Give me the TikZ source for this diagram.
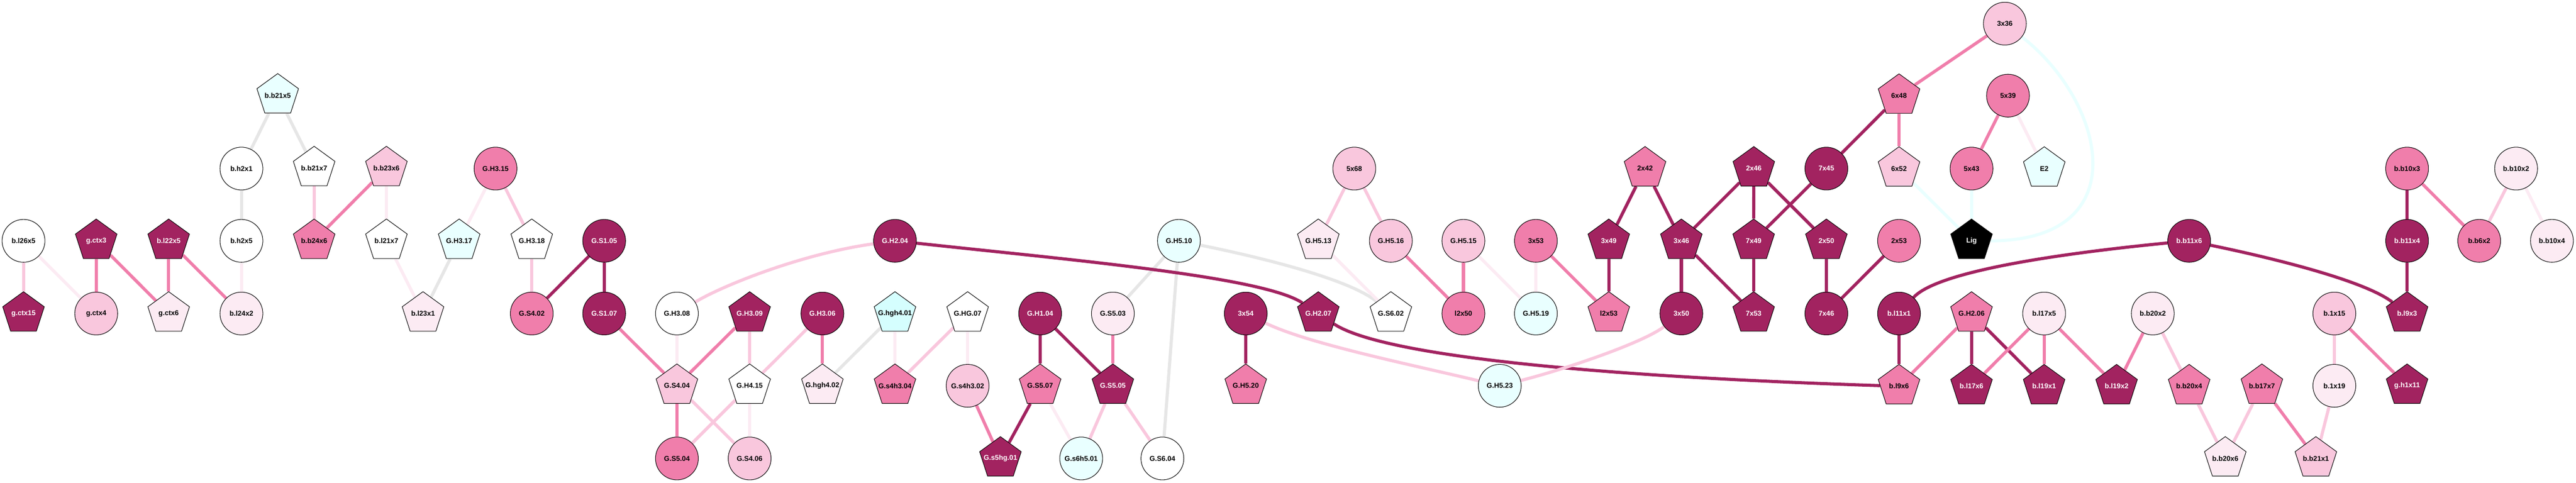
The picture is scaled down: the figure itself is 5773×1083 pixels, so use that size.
\documentclass[tikz,border=0pt]{standalone}
\usepackage{fontspec}
\setmainfont{Liberation Sans}
\usetikzlibrary{shapes.geometric,backgrounds}
\definecolor{cD}{RGB}{162,35,96}
\definecolor{cM}{RGB}{240,126,171}
\definecolor{cL}{RGB}{249,199,221}
\definecolor{cV}{RGB}{252,235,243}
\definecolor{cG}{RGB}{230,230,230}
\definecolor{cC}{RGB}{233,255,255}
\definecolor{cCC}{RGB}{213,254,254}
\newcommand\nlab[1]{\makebox[0pt]{#1}}
\begin{document}
\begin{tikzpicture}[x=1pt,y=-1pt,
  basenode/.style={draw=black,line width=1.2pt,inner sep=0pt,font=\fontsize{15.7}{18}\selectfont\bfseries},
  circ/.style={basenode,circle,minimum size=96pt},
  pent/.style={basenode,regular polygon,regular polygon sides=5,minimum size=98pt},
  fD/.style={fill=cD,text=white},
  fM/.style={fill=cM,text=black},
  fL/.style={fill=cL,text=black},
  fV/.style={fill=cV,text=black},
  fW/.style={fill=white,text=black},
  fC/.style={fill=cC,text=black},
  fCC/.style={fill=cCC,text=black},
  fK/.style={fill=black,text=white},
  edge/.style={line width=7pt},
  eD/.style={edge,draw=cD},
  eM/.style={edge,draw=cM},
  eL/.style={edge,draw=cL},
  eV/.style={edge,draw=cV},
  eG/.style={edge,draw=cG},
  eC/.style={edge,draw=cC}]
\useasboundingbox (0,0) rectangle (5773,1083);
% ---------- nodes ----------
\node[circ,fW] (bl26x5) at (52.7,540) {\nlab{b.l26x5}};
\node[pent,fD] (gctx3) at (215.6,540) {\nlab{g.ctx3}};
\node[pent,fD] (bl22x5) at (378,540) {\nlab{b.l22x5}};
\node[circ,fW] (bh2x5) at (541,540) {\nlab{b.h2x5}};
\node[circ,fW] (bh2x1) at (541,378) {\nlab{b.h2x1}};
\node[pent,fC] (bb21x5) at (622.4,214) {\nlab{b.b21x5}};
\node[pent,fW] (bb21x7) at (704,377) {\nlab{b.b21x7}};
\node[pent,fL] (bb23x6) at (866,377) {\nlab{b.b23x6}};
\node[pent,fM] (bb24x6) at (704,540) {\nlab{b.b24x6}};
\node[pent,fW] (bl21x7) at (866,540) {\nlab{b.l21x7}};
\node[pent,fC] (gh317) at (1029,540) {\nlab{G.H3.17}};
\node[circ,fV] (bl24x2) at (541,703) {\nlab{b.l24x2}};
\node[pent,fV] (bl23x1) at (948,703) {\nlab{b.l23x1}};
\node[pent,fD] (gctx15) at (52.7,703) {\nlab{g.ctx15}};
\node[circ,fL] (gctx4) at (215.6,703) {\nlab{g.ctx4}};
\node[pent,fV] (gctx6) at (378,703) {\nlab{g.ctx6}};
\node[circ,fM] (gh315) at (1110.5,378) {\nlab{G.H3.15}};
\node[pent,fW] (gh318) at (1191.7,540) {\nlab{G.H3.18}};
\node[circ,fD] (gs105) at (1354,540) {\nlab{G.S1.05}};
\node[circ,fM] (gs402) at (1191.7,703) {\nlab{G.S4.02}};
\node[circ,fD] (gs107) at (1354,703) {\nlab{G.S1.07}};
\node[circ,fW] (gh308) at (1517,703) {\nlab{G.H3.08}};
\node[pent,fL] (gs404) at (1517,865) {\nlab{G.S4.04}};
\node[circ,fM] (gs504) at (1517,1028) {\nlab{G.S5.04}};
\node[circ,fD] (gh204) at (2005.7,540) {\nlab{G.H2.04}};
\node[pent,fD] (gh309) at (1680,703) {\nlab{G.H3.09}};
\node[circ,fD] (gh306) at (1843,703) {\nlab{G.H3.06}};
\node[pent,fCC] (ghgh401) at (2005.7,703) {\nlab{G.hgh4.01}};
\node[pent,fW] (ghg07) at (2168.5,703) {\nlab{G.HG.07}};
\node[pent,fW] (gh415) at (1680,865) {\nlab{G.H4.15}};
\node[pent,fV] (ghgh402) at (1843,865) {\nlab{G.hgh4.02}};
\node[pent,fM] (gs4h304) at (2005.7,865) {\nlab{G.s4h3.04}};
\node[circ,fL] (gs4h302) at (2168.5,865) {\nlab{G.s4h3.02}};
\node[circ,fL] (gs406) at (1680,1028) {\nlab{G.S4.06}};
\node[pent,fD] (gs5hg01) at (2242,1028) {\nlab{G.s5hg.01}};
\node[circ,fC] (gh510) at (2642,540) {\nlab{G.H5.10}};
\node[circ,fD] (gh104) at (2331,703) {\nlab{G.H1.04}};
\node[circ,fV] (gs503) at (2494,703) {\nlab{G.S5.03}};
\node[circ,fD] (x3x54) at (2791.8,703) {\nlab{3x54}};
\node[pent,fM] (gs507) at (2331,865) {\nlab{G.S5.07}};
\node[pent,fD] (gs505) at (2494,865) {\nlab{G.S5.05}};
\node[pent,fM] (gh520) at (2791.8,865) {\nlab{G.H5.20}};
\node[circ,fC] (gs6h501) at (2423,1028) {\nlab{G.s6h5.01}};
\node[circ,fW] (gs604) at (2605,1028) {\nlab{G.S6.04}};
\node[circ,fL] (x5x68) at (3035,378) {\nlab{5x68}};
\node[pent,fV] (gh513) at (2954.4,540) {\nlab{G.H5.13}};
\node[circ,fL] (gh516) at (3117,540) {\nlab{G.H5.16}};
\node[circ,fL] (gh515) at (3279.6,540) {\nlab{G.H5.15}};
\node[circ,fM] (x3x53) at (3442,540) {\nlab{3x53}};
\node[pent,fD] (gh207) at (2954.4,703) {\nlab{G.H2.07}};
\node[pent,fW] (gs602) at (3117,703) {\nlab{G.S6.02}};
\node[circ,fM] (l2x50) at (3279.6,703) {\nlab{l2x50}};
\node[circ,fC] (gh519) at (3442,703) {\nlab{G.H5.19}};
\node[circ,fC] (gh523) at (3361,865) {\nlab{G.H5.23}};
\node[pent,fM] (x2x42) at (3686.6,377.5) {\nlab{2x42}};
\node[pent,fD] (x2x46) at (3930.4,377.5) {\nlab{2x46}};
\node[pent,fD] (x3x49) at (3605.4,540) {\nlab{3x49}};
\node[pent,fD] (x3x46) at (3768,540) {\nlab{3x46}};
\node[pent,fD] (x7x49) at (3930,540) {\nlab{7x49}};
\node[pent,fD] (x2x50) at (4093,540) {\nlab{2x50}};
\node[pent,fM] (l2x53) at (3605.4,703) {\nlab{l2x53}};
\node[circ,fD] (x3x50) at (3768,703) {\nlab{3x50}};
\node[pent,fD] (x7x53) at (3930,703) {\nlab{7x53}};
\node[circ,fD] (x7x46) at (4093,703) {\nlab{7x46}};
\node[circ,fL] (x3x36) at (4493,53) {\nlab{3x36}};
\node[pent,fM] (x6x48) at (4255.8,214.5) {\nlab{6x48}};
\node[circ,fM] (x5x39) at (4500,214.5) {\nlab{5x39}};
\node[circ,fD] (x7x45) at (4093,378) {\nlab{7x45}};
\node[pent,fL] (x6x52) at (4255.8,378) {\nlab{6x52}};
\node[circ,fM] (x5x43) at (4418.3,378) {\nlab{5x43}};
\node[pent,fC] (xE2) at (4581.3,378) {\nlab{E2}};
\node[circ,fM] (x2x53) at (4255.8,540) {\nlab{2x53}};
\node[pent,fK] (lig) at (4418.3,540) {\nlab{Lig}};
\node[circ,fD] (bb11x6) at (4906,540) {\nlab{b.b11x6}};
\node[circ,fD] (bl11x1) at (4255.8,703) {\nlab{b.l11x1}};
\node[pent,fM] (gh206) at (4418.3,703) {\nlab{G.H2.06}};
\node[circ,fV] (bl17x5) at (4581,703) {\nlab{b.l17x5}};
\node[circ,fV] (bb20x2) at (4824.5,703) {\nlab{b.b20x2}};
\node[pent,fM] (bl9x6) at (4255.8,866) {\nlab{b.l9x6}};
\node[pent,fD] (bl17x6) at (4418.3,866) {\nlab{b.l17x6}};
\node[pent,fD] (bl19x1) at (4581,866) {\nlab{b.l19x1}};
\node[pent,fD] (bl19x2) at (4743.4,866) {\nlab{b.l19x2}};
\node[pent,fM] (bb20x4) at (4906,866) {\nlab{b.b20x4}};
\node[circ,fM] (bb10x3) at (5394.4,378) {\nlab{b.b10x3}};
\node[circ,fV] (bb10x2) at (5638.7,378) {\nlab{b.b10x2}};
\node[circ,fD] (bb11x4) at (5394.4,540) {\nlab{b.b11x4}};
\node[circ,fM] (bb6x2) at (5556,540) {\nlab{b.b6x2}};
\node[circ,fV] (bb10x4) at (5719,540) {\nlab{b.b10x4}};
\node[circ,fL] (b1x15) at (5231.4,703) {\nlab{b.1x15}};
\node[pent,fD] (bl9x3) at (5394.4,703) {\nlab{b.l9x3}};
\node[pent,fM] (bb17x7) at (5069,865) {\nlab{b.b17x7}};
\node[circ,fV] (b1x19) at (5231.4,865) {\nlab{b.1x19}};
\node[pent,fD] (gh1x11) at (5394.4,865) {\nlab{g.h1x11}};
\node[pent,fV] (bb20x6) at (4987,1028) {\nlab{b.b20x6}};
\node[pent,fL] (bb21x1) at (5190,1028) {\nlab{b.b21x1}};
% ---------- edges ----------
\begin{pgfonlayer}{background}
\draw[eL] (bl26x5) -- (gctx15);
\draw[eV] (bl26x5) -- (gctx4);
\draw[eM] (gctx3) -- (gctx4);
\draw[eM] (gctx3) -- (gctx6);
\draw[eM] (bl22x5) -- (gctx6);
\draw[eM] (bl22x5) -- (bl24x2);
\draw[eV] (bh2x5) -- (bl24x2);
\draw[eG] (bh2x1) -- (bh2x5);
\draw[eG] (bb21x5) -- (bh2x1);
\draw[eG] (bb21x5) -- (bb21x7);
\draw[eL] (bb21x7) -- (bb24x6);
\draw[eM] (bb23x6) -- (bb24x6);
\draw[eV] (bb23x6) -- (bl21x7);
\draw[eV] (bl21x7) -- (bl23x1);
\draw[eG] (gh317) -- (bl23x1);
\draw[eV] (gh315) -- (gh317);
\draw[eL] (gh315) -- (gh318);
\draw[eL] (gh318) -- (gs402);
\draw[eD] (gs105) -- (gs402);
\draw[eD] (gs105) -- (gs107);
\draw[eM] (gs107) -- (gs404);
\draw[eV] (gh308) -- (gs404);
\draw[eL] (gh308) .. controls (1610,645) and (1790,570) .. (gh204);
\draw[eM] (gh309) -- (gs404);
\draw[eL] (gh309) -- (gh415);
\draw[eL] (gh306) -- (gh415);
\draw[eM] (gh306) -- (ghgh402);
\draw[eG] (ghgh401) -- (ghgh402);
\draw[eV] (ghgh401) -- (gs4h304);
\draw[eL] (ghg07) -- (gs4h304);
\draw[eV] (ghg07) -- (gs4h302);
\draw[eM] (gs4h302) -- (gs5hg01);
\draw[eM] (gs404) -- (gs504);
\draw[eL] (gs404) -- (gs406);
\draw[eL] (gh415) -- (gs504);
\draw[eV] (gh415) -- (gs406);
\draw[eD] (gh104) -- (gs507);
\draw[eD] (gh104) -- (gs505);
\draw[eM] (gs503) -- (gs505);
\draw[eG] (gh510) -- (gs503);
\draw[eG] (gh510) -- (gs604);
\draw[eG] (gh510) .. controls (2850,582) and (3030,630) .. (gs602);
\draw[eD] (gs507) -- (gs5hg01);
\draw[eV] (gs507) -- (gs6h501);
\draw[eL] (gs505) -- (gs6h501);
\draw[eL] (gs505) -- (gs604);
\draw[eD] (gh204) .. controls (2400,583) and (2830,620) .. (gh207);
\draw[eD] (gh207) .. controls (3100,800) and (3600,845) .. (bl9x6);
\draw[eD] (x3x54) -- (gh520);
\draw[eL] (x3x54) .. controls (2930,770) and (3150,815) .. (gh523);
\draw[eL] (x5x68) -- (gh513);
\draw[eL] (x5x68) -- (gh516);
\draw[eV] (gh513) -- (gs602);
\draw[eM] (gh516) -- (l2x50);
\draw[eM] (gh515) -- (l2x50);
\draw[eV] (gh515) -- (gh519);
\draw[eV] (x3x53) -- (gh519);
\draw[eM] (x3x53) -- (l2x53);
\draw[eL] (gh523) .. controls (3500,830) and (3680,770) .. (x3x50);
\draw[eD] (x2x42) -- (x3x49);
\draw[eD] (x2x42) -- (x3x46);
\draw[eD] (x2x46) -- (x3x46);
\draw[eD] (x2x46) -- (x7x49);
\draw[eD] (x2x46) -- (x2x50);
\draw[eD] (x7x45) -- (x7x49);
\draw[eD] (x6x48) -- (x7x45);
\draw[eD] (x3x49) -- (l2x53);
\draw[eD] (x3x46) -- (x3x50);
\draw[eD] (x3x46) -- (x7x53);
\draw[eD] (x7x49) -- (x7x53);
\draw[eD] (x2x50) -- (x7x46);
\draw[eD] (x2x53) -- (x7x46);
\draw[eM] (x3x36) -- (x6x48);
\draw[eC] (x3x36) .. controls (4720,230) and (4790,540) .. (lig);
\draw[eM] (x6x48) -- (x6x52);
\draw[eC] (x6x52) -- (lig);
\draw[eM] (x5x39) -- (x5x43);
\draw[eV] (x5x39) -- (xE2);
\draw[eC] (x5x43) -- (lig);
\draw[eD] (bb11x6) .. controls (4600,570) and (4340,610) .. (bl11x1);
\draw[eD] (bb11x6) .. controls (5100,580) and (5300,630) .. (bl9x3);
\draw[eD] (bl11x1) -- (bl9x6);
\draw[eM] (gh206) -- (bl9x6);
\draw[eD] (gh206) -- (bl17x6);
\draw[eD] (gh206) -- (bl19x1);
\draw[eM] (bl17x5) -- (bl17x6);
\draw[eM] (bl17x5) -- (bl19x1);
\draw[eM] (bl17x5) -- (bl19x2);
\draw[eM] (bb20x2) -- (bl19x2);
\draw[eL] (bb20x2) -- (bb20x4);
\draw[eL] (bb20x4) -- (bb20x6);
\draw[eL] (bb17x7) -- (bb20x6);
\draw[eM] (bb17x7) -- (bb21x1);
\draw[eL] (b1x19) -- (bb21x1);
\draw[eL] (b1x15) -- (b1x19);
\draw[eM] (b1x15) -- (gh1x11);
\draw[eD] (bb10x3) -- (bb11x4);
\draw[eM] (bb10x3) -- (bb6x2);
\draw[eD] (bb11x4) -- (bl9x3);
\draw[eL] (bb10x2) -- (bb6x2);
\draw[eV] (bb10x2) -- (bb10x4);
\end{pgfonlayer}
\end{tikzpicture}
\end{document}
